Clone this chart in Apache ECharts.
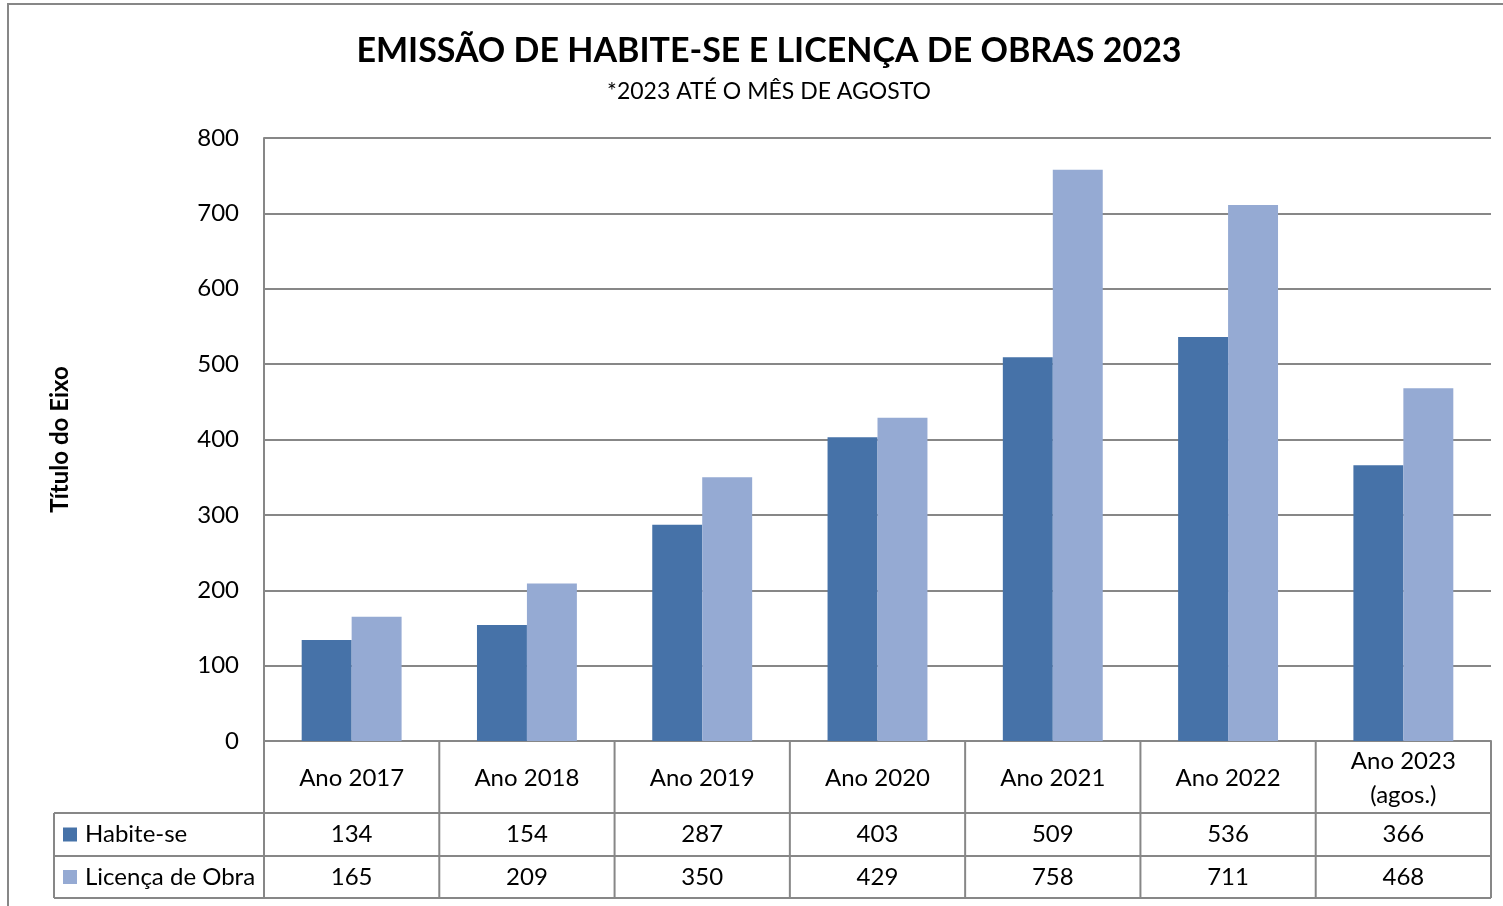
<!DOCTYPE html>
<html>
<head>
<meta charset="utf-8">
<script src="https://cdn.jsdelivr.net/npm/echarts@6/dist/echarts.min.js"></script>
<style>
  html, body { margin: 0; padding: 0; background: #fff; }
  #chart { width: 1503px; height: 906px; }
</style>
</head>
<body>
<div id="chart"></div>
<script>
const categories = ['Ano 2017', 'Ano 2018', 'Ano 2019', 'Ano 2020', 'Ano 2021', 'Ano 2022', 'Ano 2023\n(agos.)'];
const seriesNames = ['Habite-se', 'Licença de Obra'];
const habiteSe = [134, 154, 287, 403, 509, 536, 366];
const licencaObra = [165, 209, 350, 429, 758, 711, 468];
const seriesColors = ['#4672a8', '#95aad3'];

const FONT = 'Lato, "Open Sans", sans-serif';
const LINE = '#878787';
const FS = 24;

let chartDom = document.getElementById('chart');
let myChart = echarts.init(chartDom);

// plot rectangle
const gLeft = 264, gTop = 138, gRight = 1491, gBottom = 741;
const rowH = [72, 43, 42];
const tableLeft = 54;

function buildTable() {
  const els = [];
  const n = categories.length;
  const colW = (gRight - gLeft) / n;
  const y0 = gBottom, y1 = y0 + rowH[0], y2 = y1 + rowH[1], y3 = y2 + rowH[2];
  const line = (x1, yA, x2, yB) => ({
    type: 'line', shape: { x1: x1, y1: yA, x2: x2, y2: yB },
    style: { stroke: LINE, lineWidth: 2 }, z: 10
  });
  // vertical column separators
  for (let i = 0; i <= n; i++) {
    const x = gLeft + colW * i;
    els.push(line(x, y0, x, y3));
  }
  els.push(line(tableLeft, y1, tableLeft, y3));
  els.push(line(tableLeft, y1, gRight, y1));
  els.push(line(tableLeft, y2, gRight, y2));
  els.push(line(tableLeft, y3, gRight, y3));

  const rows = [habiteSe, licencaObra];
  rows.forEach((vals, r) => {
    const cy = r === 0 ? (y1 + y2) / 2 : (y2 + y3) / 2;
    els.push({
      type: 'rect', shape: { x: 63, y: cy - 7, width: 14, height: 14 },
      style: { fill: seriesColors[r] }, z: 10
    });
    els.push({
      type: 'text', x: 85, y: cy,
      style: { text: seriesNames[r], font: FS + 'px ' + FONT, fill: '#000', textVerticalAlign: 'middle' }, z: 10
    });
    vals.forEach((v, i) => {
      els.push({
        type: 'text', x: gLeft + colW * (i + 0.5), y: cy,
        style: { text: String(v), font: FS + 'px ' + FONT, fill: '#000', textAlign: 'center', textVerticalAlign: 'middle' }, z: 10
      });
    });
  });
  // outer chart border
  els.push({
    type: 'rect', shape: { x: 8, y: 4, width: 1520, height: 940 },
    style: { fill: 'none', stroke: LINE, lineWidth: 2 }, z: 10
  });
  return els;
}

let option = {
  animation: false,
  backgroundColor: '#fff',
  title: {
    text: 'EMISSÃO DE HABITE-SE E LICENÇA DE OBRAS 2023',
    subtext: '*2023 ATÉ O MÊS DE AGOSTO',
    left: 764,
    textAlign: 'center',
    top: 29,
    itemGap: 12,
    textStyle: { fontFamily: FONT, fontSize: 34, fontWeight: 'bold', color: '#000' },
    subtextStyle: { fontFamily: FONT, fontSize: 23, color: '#000' }
  },
  grid: { left: gLeft, top: gTop, right: 1503 - gRight, bottom: 906 - gBottom, containLabel: false },
  xAxis: {
    type: 'category',
    data: categories,
    axisLine: { show: true, lineStyle: { color: LINE, width: 2 } },
    axisTick: { show: false },
    axisLabel: {
      fontFamily: FONT, fontSize: FS, color: '#000',
      margin: 37, verticalAlign: 'middle', lineHeight: 34, interval: 0
    }
  },
  yAxis: {
    type: 'value',
    min: 0, max: 800, interval: 100,
    name: 'Título do Eixo',
    nameLocation: 'middle',
    nameGap: 192,
    nameRotate: 90,
    nameTextStyle: { fontFamily: FONT, fontSize: FS, fontWeight: 'bold', color: '#000' },
    axisLine: { show: true, lineStyle: { color: LINE, width: 2 } },
    axisTick: { show: false },
    axisLabel: { fontFamily: FONT, fontSize: FS, color: '#000', margin: 25 },
    splitLine: { lineStyle: { color: LINE, width: 2 } }
  },
  series: [
    {
      name: seriesNames[0], type: 'bar', data: habiteSe,
      itemStyle: { color: seriesColors[0] },
      barGap: '0%', barCategoryGap: '43%'
    },
    {
      name: seriesNames[1], type: 'bar', data: licencaObra,
      itemStyle: { color: seriesColors[1] },
      barGap: '0%', barCategoryGap: '43%'
    }
  ],
  graphic: { elements: buildTable() }
};

option && myChart.setOption(option);
</script>
</body>
</html>
